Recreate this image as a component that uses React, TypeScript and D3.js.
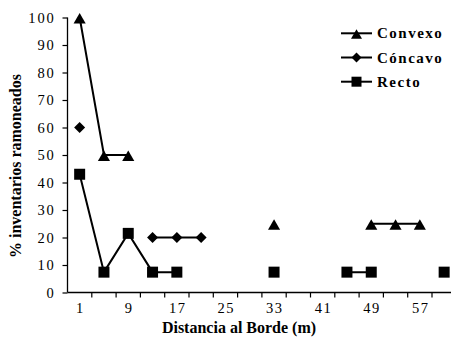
import { useEffect, useRef } from 'react';
import * as d3 from 'd3';

const categories = [1, 5, 9, 13, 17, 21, 25, 29, 33, 37, 41, 45, 49, 53, 57, 61];
const tickLabels = [1, 9, 17, 25, 33, 41, 49, 57];
const yTicks = [0, 10, 20, 30, 40, 50, 60, 70, 80, 90, 100];

// null = no value at that distance (line breaks there)
const convexo: (number | null)[] = [100, 50, 50, null, null, null, null, null, 25, null, null, null, 25, 25, 25, null];
const concavo: (number | null)[] = [60, null, null, 20, 20, 20, null, null, null, null, null, null, null, null, null, null];
const recto: (number | null)[] = [43, 7.4, 21.5, 7.4, 7.4, null, null, null, 7.4, null, null, 7.4, 7.4, null, null, 7.4];

const series = [
  { name: 'Convexo', values: convexo, kind: 'tri' },
  { name: 'Cóncavo', values: concavo, kind: 'dia' },
  { name: 'Recto', values: recto, kind: 'sq' },
];

function marker(kind: string, r: number) {
  const p = d3.path();
  if (kind === 'tri') {
    p.moveTo(0, -r * 0.8); p.lineTo(r * 1.1, r * 1.1); p.lineTo(-r * 1.1, r * 1.1); p.closePath();
  } else if (kind === 'dia') {
    p.moveTo(0, -r); p.lineTo(r, 0); p.lineTo(0, r); p.lineTo(-r, 0); p.closePath();
  } else {
    p.rect(-r, -r, 2 * r, 2 * r);
  }
  return p.toString();
}

const FONT = 'Liberation Serif';

export default function App() {
  const svgRef = useRef<SVGSVGElement>(null);

  useEffect(() => {
    if (!svgRef.current) return;
    const svg = d3.select(svgRef.current);
    svg.selectAll('*').remove();

    const W = 451;
    const left = 67.5, top = 17.5, bottom = 292.5;
    const bandW = 24.3;

    const x = d3.scaleBand<number>()
      .domain(categories)
      .range([left, left + bandW * categories.length])
      .padding(0);
    const y = d3.scaleLinear().domain([0, 100]).range([bottom, top]);
    const cx = (c: number) => (x(c) ?? 0) + x.bandwidth() / 2;

    // y axis
    const yAxis = svg.append('g').attr('transform', `translate(${left},0)`)
      .call(d3.axisLeft(y).tickValues(yTicks).tickSize(5).tickPadding(7));
    yAxis.attr('font-family', null).attr('font-size', null);
    yAxis.select('.domain').attr('stroke', '#000').attr('stroke-width', 1.3).attr('d', `M0,${top}V${bottom}`);
    yAxis.selectAll('line').attr('stroke', '#000').attr('stroke-width', 1.2);
    yAxis.selectAll('text')
      .style('font-family', FONT).style('font-size', '14.5px')
      .attr('letter-spacing', '1.8px').attr('fill', '#000');

    // x axis: ticks at band boundaries, labels every other category
    const xg = svg.append('g');
    xg.append('line')
      .attr('x1', left).attr('x2', W).attr('y1', bottom).attr('y2', bottom)
      .attr('stroke', '#000').attr('stroke-width', 1.3);
    xg.selectAll('.xt')
      .data(categories)
      .enter().append('line')
      .attr('x1', d => (x(d) ?? 0) + bandW).attr('x2', d => (x(d) ?? 0) + bandW)
      .attr('y1', bottom).attr('y2', bottom + 5)
      .attr('stroke', '#000').attr('stroke-width', 1.2);
    xg.selectAll('.xl')
      .data(tickLabels)
      .enter().append('text')
      .attr('x', d => cx(d) + 0.8)
      .attr('y', 313)
      .attr('text-anchor', 'middle')
      .attr('letter-spacing', '1.5px')
      .style('font-family', FONT).style('font-size', '14.5px')
      .text(d => d);

    // axis titles
    svg.append('text')
      .attr('x', 239).attr('y', 333)
      .attr('text-anchor', 'middle')
      .style('font-family', FONT).style('font-size', '16px').style('font-weight', 'bold')
      .text('Distancia al Borde (m)');
    svg.append('text')
      .attr('transform', `translate(21,166) rotate(-90)`)
      .attr('text-anchor', 'middle')
      .style('font-family', FONT).style('font-size', '16px').style('font-weight', 'bold')
      .text('% inventarios ramoneados');

    // series
    series.forEach(s => {
      const pts = categories.map((c, i) => ({ c, v: s.values[i] }));
      const line = d3.line<{ c: number; v: number | null }>()
        .defined(d => d.v != null)
        .x(d => cx(d.c))
        .y(d => y(d.v as number));
      svg.append('path')
        .attr('d', line(pts))
        .attr('fill', 'none').attr('stroke', '#000').attr('stroke-width', 2);
      svg.selectAll(null)
        .data(pts.filter(d => d.v != null))
        .enter().append('path')
        .attr('d', marker(s.kind, 5.5))
        .attr('transform', d => `translate(${cx(d.c)},${y(d.v as number)})`)
        .attr('fill', '#000');
    });

    // legend
    const lg = svg.append('g');
    series.forEach((s, i) => {
      const ly = 33.3 + i * 24.2;
      lg.append('line')
        .attr('x1', 341).attr('x2', 372).attr('y1', ly).attr('y2', ly)
        .attr('stroke', '#000').attr('stroke-width', 2);
      lg.append('path')
        .attr('d', marker(s.kind, 5))
        .attr('transform', `translate(356.5,${ly})`)
        .attr('fill', '#000');
      lg.append('text')
        .attr('x', 377).attr('y', ly + 5)
        .style('font-family', FONT).style('font-size', '15px').style('font-weight', 'bold')
        .attr('letter-spacing', '1.5px')
        .text(s.name);
    });
  }, []);

  return (
    <div style={{ position: 'absolute', left: 0, top: 0 }}>
      <svg ref={svgRef} width={451} height={337} style={{ display: 'block', background: '#fff' }} />
    </div>
  );
}
